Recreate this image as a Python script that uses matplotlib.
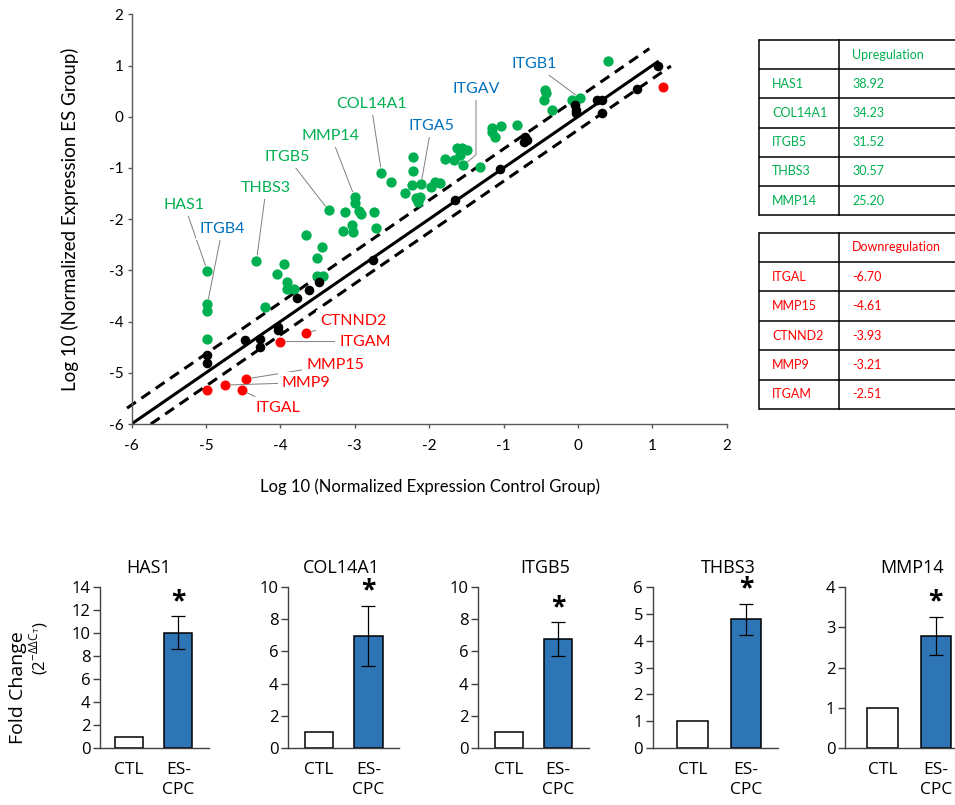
import matplotlib
matplotlib.use('Agg')
import matplotlib.pyplot as plt

plt.rcParams['font.family'] = ['Lato', 'DejaVu Sans']
plt.rcParams['axes.unicode_minus'] = False

W, H = 955, 805

GREEN = '#00B050'
RED = '#FF0000'
BLUE = '#0070C0'
BAR_BLUE = '#2E75B6'

# --- scatter: log10 normalized expression, control group (x) vs ES group (y)
up_x = [-4.98, -4.98, -4.98, -4.98, -4.20, -3.91, -3.91, -3.82, -4.05, -3.95,
        -4.32, -3.65, -3.44, -3.51, -3.51, -3.42, -3.35, -3.13, -3.00, -3.00,
        -2.94, -2.91, -2.74, -2.71, -3.16, -3.04, -3.02, -2.64, -2.51, -2.21,
        -2.22, -2.23, -2.11, -2.33, -2.17, -2.15, -1.97, -1.92, -1.85, -2.12,
        -1.79, -1.67, -1.63, -1.56, -1.49, -1.58, -1.54, -1.32, -1.16, -1.16,
        -1.11, -1.03, -0.82, -0.44, -0.43, -0.46, -0.35, -0.08, 0.03, 0.41]
up_y = [-3.01, -3.66, -3.79, -4.34, -3.72, -3.22, -3.37, -3.37, -3.07, -2.87,
        -2.81, -2.31, -2.55, -2.76, -3.11, -3.11, -1.83, -1.86, -1.57, -1.69,
        -1.85, -1.90, -1.87, -2.17, -2.23, -2.11, -2.26, -1.09, -1.27, -0.79,
        -1.06, -1.33, -1.32, -1.48, -1.59, -1.66, -1.38, -1.27, -1.29, -1.56,
        -0.83, -0.84, -0.61, -0.61, -0.65, -0.75, -0.95, -0.99, -0.22, -0.29,
        -0.39, -0.18, -0.16, 0.52, 0.46, 0.33, 0.13, 0.33, 0.36, 1.08]

nc_x = [-4.98, -4.98, -4.47, -4.27, -4.27, -4.03, -4.03, -3.77, -3.61, -3.48,
        -2.76, -1.65, -1.05, -0.71, -0.69, -0.72, -0.04, -0.02, -0.02, 0.25,
        0.32, 0.32, 0.79, 1.07]
nc_y = [-4.65, -4.81, -4.36, -4.34, -4.49, -4.10, -4.16, -3.53, -3.38, -3.22,
        -2.79, -1.62, -1.02, -0.39, -0.45, -0.49, 0.23, 0.13, 0.07, 0.33,
        0.33, 0.07, 0.54, 0.99]

down_x = [-4.98, -4.74, -4.46, -4.52, -3.76, -4.00, -3.65, 1.14]
down_y = [-5.34, -5.24, -5.12, -5.34, -5.29, -4.39, -4.22, 0.58]

# guide lines (identity and fold-change boundaries)
solid_x = [-6.0, 1.07]
upper_x = [-6.06, 0.96]
upper_offset = 0.37
lower_x = [-5.74, 1.25]
lower_offset = -0.26

# labelled genes
label_names = ['HAS1', 'ITGB4', 'THBS3', 'ITGB5', 'MMP14', 'COL14A1', 'ITGA5',
               'ITGAV', 'ITGB1', 'CTNND2', 'ITGAM', 'MMP15', 'MMP9', 'ITGAL']
label_colors = [GREEN, BLUE, GREEN, GREEN, GREEN, GREEN, BLUE,
                BLUE, BLUE, RED, RED, RED, RED, RED]
label_pt_x = [-4.98, -4.98, -4.32, -3.35, -3.00, -2.64, -2.11,
              -1.54, 0.03, -3.65, -4.00, -4.46, -4.74, -4.52]
label_pt_y = [-3.01, -3.66, -2.81, -1.83, -1.57, -1.09, -1.32,
              -0.95, 0.36, -4.22, -4.39, -5.12, -5.24, -5.34]
label_tx = [-5.29, -4.78, -4.19, -3.91, -3.32, -2.78, -1.97,
            -1.37, -0.59, -3.02, -2.86, -3.26, -3.65, -4.03]
label_ty = [-1.72, -2.19, -1.39, -0.78, -0.37, 0.25, -0.18,
            0.54, 1.03, -3.98, -4.39, -4.84, -5.19, -5.68]

# tables
up_genes = ['HAS1', 'COL14A1', 'ITGB5', 'THBS3', 'MMP14']
up_values = ['38.92', '34.23', '31.52', '30.57', '25.20']
down_genes = ['ITGAL', 'MMP15', 'CTNND2', 'MMP9', 'ITGAM']
down_values = ['-6.70', '-4.61', '-3.93', '-3.21', '-2.51']

# qPCR validation bars
bar_genes = ['HAS1', 'COL14A1', 'ITGB5', 'THBS3', 'MMP14']
bar_groups = ['CTL', 'ES-\nCPC']
ctl_values = [1.0, 1.0, 1.0, 1.0, 1.0]
es_values = [10.0, 6.95, 6.76, 4.79, 2.79]
es_errors = [1.43, 1.85, 1.03, 0.57, 0.47]
bar_ymax = [14, 10, 10, 6, 4]
bar_ystep = [2, 2, 2, 1, 1]


def box(left, top, right, bottom):
    return [left / W, 1 - bottom / H, (right - left) / W, (bottom - top) / H]


fig = plt.figure(figsize=(W / 100, H / 100), dpi=100)

# overlay in pixel coords for the tables / panel titles
lay = fig.add_axes([0, 0, 1, 1])
lay.set_xlim(0, W)
lay.set_ylim(H, 0)
lay.axis('off')
lay.patch.set_alpha(0)

# ---------------- scatter
ax = fig.add_axes(box(131.5, 14.3, 726.7, 424))
ax.set_xlim(-6, 2)
ax.set_ylim(-6, 2)
for s in ('top', 'right'):
    ax.spines[s].set_visible(False)
for s in ('left', 'bottom'):
    ax.spines[s].set_color('#595959')
    ax.spines[s].set_linewidth(1.0)
ax.set_xticks(range(-6, 3))
ax.set_yticks(range(-6, 3))
ax.tick_params(direction='out', length=3, width=1.0, color='#595959',
               labelsize=11)
ax.tick_params(axis='x', pad=8)
ax.tick_params(axis='y', pad=3)

ax.plot(solid_x, solid_x, color='black', lw=2.2, zorder=2)
ax.plot(upper_x, [v + upper_offset for v in upper_x], color='black', lw=2.2,
        dashes=(3.5, 2.2), zorder=2, clip_on=False)
ax.plot(lower_x, [v + lower_offset for v in lower_x], color='black', lw=2.2,
        dashes=(3.5, 2.2), zorder=2, clip_on=False)

ax.scatter(up_x, up_y, s=55, color=GREEN, lw=0, zorder=3)
ax.scatter(nc_x, nc_y, s=48, color='black', lw=0, zorder=3)
ax.scatter(down_x, down_y, s=52, color=RED, lw=0, zorder=3, clip_on=False)

for i, name in enumerate(label_names):
    conn = 'angle,angleA=90,angleB=40,rad=0' if name == 'ITGAV' else 'arc3'
    ax.annotate(name, xy=(label_pt_x[i], label_pt_y[i]),
                xytext=(label_tx[i], label_ty[i]),
                color=label_colors[i], fontsize=11.5, ha='center', va='center',
                bbox=dict(boxstyle='square,pad=0.25', fc='white', ec='none'),
                arrowprops=dict(arrowstyle='-', color='#7f7f7f', lw=0.7,
                                shrinkA=0, shrinkB=4, connectionstyle=conn),
                zorder=5)

ax.set_xlabel('Log 10 (Normalized Expression Control Group)', fontsize=12)
ax.set_ylabel('Log 10 (Normalized Expression ES Group)', fontsize=13.5)
ax.xaxis.set_label_coords(0.5015, -0.153)
ax.xaxis.label.set_va('center')
ax.yaxis.set_label_coords(-0.103, 0.5)
ax.yaxis.label.set_va('center')


# ---------------- tables
def draw_table(top, row_h, header, genes, values, color):
    n = len(genes) + 1
    bottom = top + n * row_h
    for i in range(n + 1):
        lay.plot([759, W + 5], [top + i * row_h] * 2, color='black', lw=1.1,
                 solid_capstyle='butt')
    for x in (759, 839.3):
        lay.plot([x, x], [top, bottom], color='black', lw=1.1)
    lay.text(852, top + row_h / 2, header, color=color, fontsize=9,
             va='center')
    for i, (g, v) in enumerate(zip(genes, values)):
        y = top + (i + 1.5) * row_h
        lay.text(772, y, g, color=color, fontsize=9, va='center')
        lay.text(852, y, v, color=color, fontsize=9, va='center')


draw_table(40, 29.2, 'Upregulation', up_genes, up_values, GREEN)
draw_table(232.7, 29.4, 'Downregulation', down_genes, down_values, RED)

# ---------------- bar panels
panel_left = [100, 288.3, 478.3, 652.7, 845]
panel_right = [209, 399.3, 589, 778.3, 971]
panel_xlim = [(-0.595, 1.625), (-0.627, 1.625), (-0.63, 1.63),
              (-0.744, 1.604), (-0.705, 1.66)]
title_x = [148.3, 341.7, 545, 728.3, 911.7]
BF = ['Open Sans', 'DejaVu Sans']

for i, gene in enumerate(bar_genes):
    bx = fig.add_axes(box(panel_left[i], 586.7, panel_right[i], 748.3))
    bx.bar([0], [ctl_values[i]], width=0.575, color='white',
           edgecolor='black', lw=1.1)
    bx.bar([1], [es_values[i]], width=0.575, color=BAR_BLUE,
           edgecolor='black', lw=1.1)
    bx.errorbar([1], [es_values[i]], yerr=[es_errors[i]], fmt='none',
                ecolor='black', elinewidth=0.9, capsize=5, capthick=0.9)
    bx.annotate('*', xy=(1, es_values[i] + es_errors[i]), xytext=(0, 1),
                textcoords='offset points', ha='center', va='bottom',
                fontsize=19, fontweight='bold', family=BF)
    bx.set_xlim(*panel_xlim[i])
    bx.set_ylim(0, bar_ymax[i])
    bx.set_yticks(range(0, bar_ymax[i] + 1, bar_ystep[i]))
    bx.set_xticks([0, 1])
    bx.set_xticklabels(bar_groups, family=BF, fontsize=12.5,
                       linespacing=1.35)
    for s in ('top', 'right'):
        bx.spines[s].set_visible(False)
    for s in ('left', 'bottom'):
        bx.spines[s].set_color('#404040')
        bx.spines[s].set_linewidth(1.0)
    bx.tick_params(axis='y', direction='out', length=5, width=1.0,
                   color='#404040', labelsize=12, pad=2)
    for lab in bx.get_yticklabels():
        lab.set_family(BF)
    bx.tick_params(axis='x', length=0, pad=10)
    bx.patch.set_alpha(0)
    lay.text(title_x[i], 568.3, gene, ha='center', va='center', fontsize=13,
             family=BF)

lay.text(18, 688, 'Fold Change', rotation=90, ha='center', va='center',
         fontsize=14, family=BF)
lay.text(39, 648, r'(2$^{\mathregular{-ΔΔC_T}}$)', rotation=90, ha='center',
         va='center', fontsize=12, family=BF)

fig.savefig('out.png', dpi=100)
